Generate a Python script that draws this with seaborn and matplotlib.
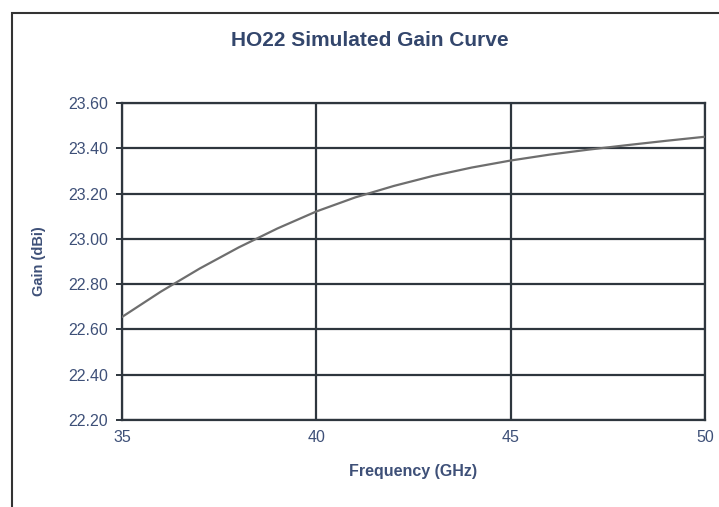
import numpy as np
import pandas as pd
import matplotlib
matplotlib.use("Agg")
import matplotlib.pyplot as plt
from matplotlib.patches import Rectangle
import seaborn as sns

# values
freq_ghz = [35, 36, 37, 38, 39, 40, 41, 42, 43, 44, 45, 46, 47, 48, 49, 50]
gain_dbi = [22.655, 22.767, 22.869, 22.962, 23.046, 23.121, 23.183, 23.234,
            23.278, 23.315, 23.346, 23.372, 23.394, 23.414, 23.433, 23.451]
x_ticks = [35, 40, 45, 50]
y_ticks = [22.20, 22.40, 22.60, 22.80, 23.00, 23.20, 23.40, 23.60]

sns.set_theme(style="white")
plt.rcParams['font.family'] = ['Liberation Sans', 'DejaVu Sans']

text_col = '#3e5078'
grid_col = '#2e363e'

df = pd.DataFrame({'freq': freq_ghz, 'gain': gain_dbi})

fig = plt.figure(figsize=(7.19, 5.07), dpi=100)
ax = fig.add_axes([122/719, 1 - 420/507, (705-122)/719, (420-103)/507])

sns.lineplot(data=df, x='freq', y='gain', ax=ax, color='#6e6e6e', linewidth=1.6, zorder=3)

ax.set_xlim(35, 50)
ax.set_ylim(22.20, 23.60)
ax.set_xticks(x_ticks)
ax.set_yticks(y_ticks)
ax.set_yticklabels(['%.2f' % v for v in y_ticks])
ax.grid(True, color=grid_col, linewidth=1.6)
for s in ax.spines.values():
    s.set_color(grid_col)
    s.set_linewidth(1.6)
ax.tick_params(axis='both', which='both', direction='out', length=4, width=1.4,
               color=grid_col, labelcolor=text_col, labelsize=11.5, pad=6)
ax.tick_params(axis='x', pad=7, length=0)
ax.tick_params(axis='y', left=True)

ax.set_xlabel('Frequency (GHz)', fontsize=11.5, fontweight='bold', color=text_col, labelpad=14)
ax.set_ylabel('Gain (dBi)', fontsize=10.5, fontweight='bold', color=text_col, labelpad=16)

fig.text(370/719, 1 - 41/507, 'HO22 Simulated Gain Curve', ha='center', va='center',
         fontsize=15, fontweight='bold', color='#33466c')

# outer chart border (cropped on right and bottom in the scan)
fig.patches.append(Rectangle((12/719, -0.05), 1.0, 1 - 13/507 + 0.05, transform=fig.transFigure,
                             fill=False, edgecolor='#333333', linewidth=1.5))

fig.savefig('out.png', dpi=100)
